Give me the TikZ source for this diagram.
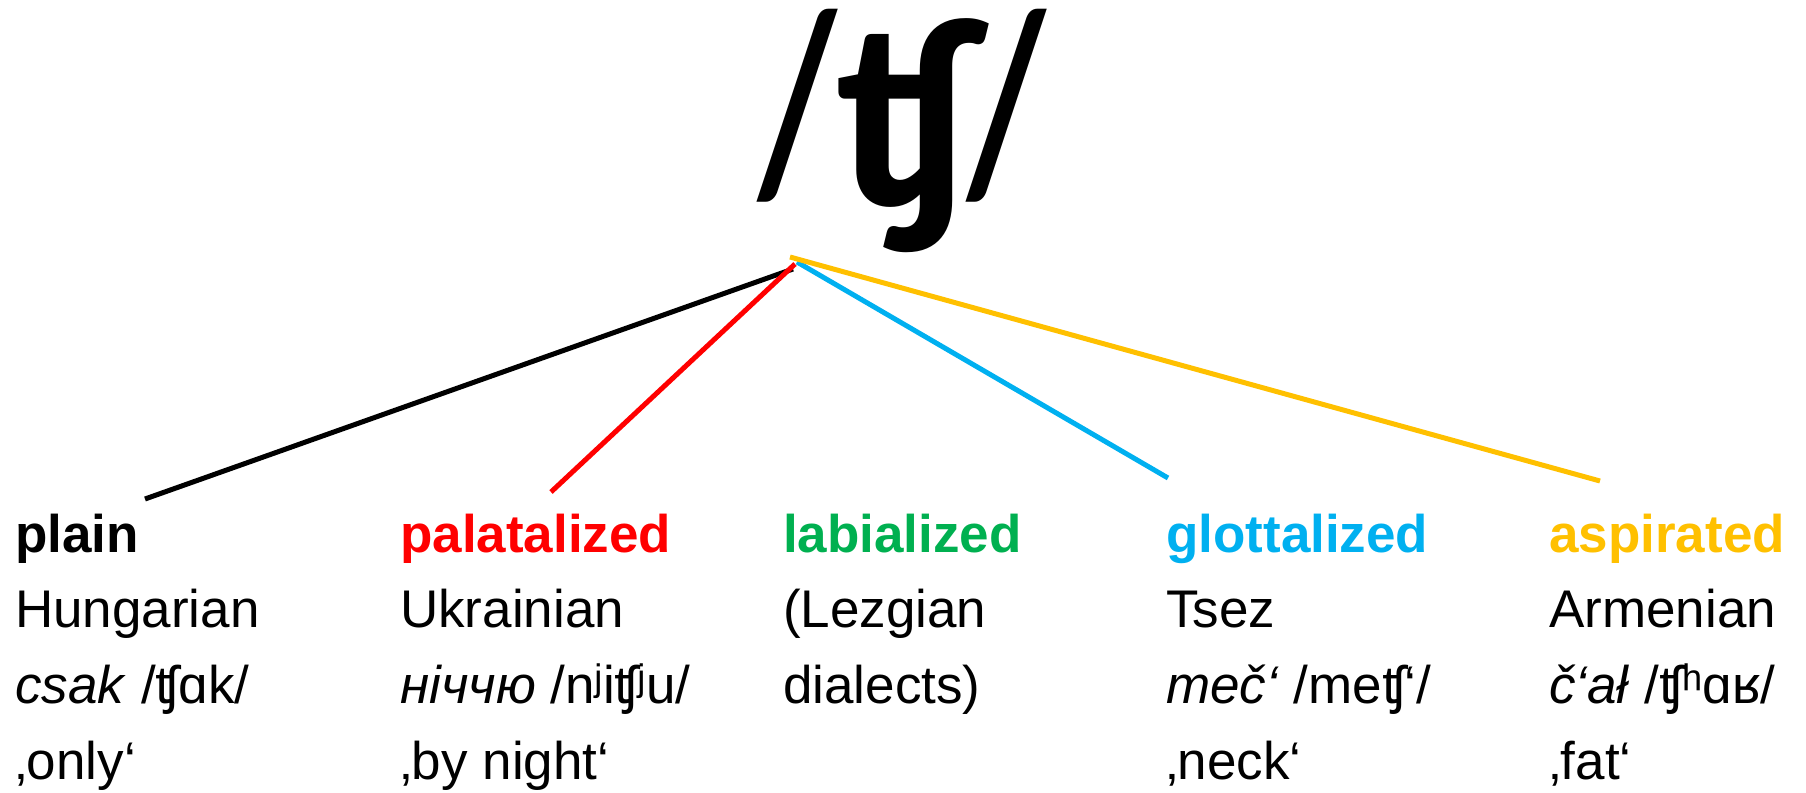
\documentclass[tikz,border=0pt]{standalone}
\usepackage{fontspec}
\setmainfont{Liberation Sans}
\newfontfamily\titlefont{Carlito}
\definecolor{cred}{HTML}{FF0000}
\definecolor{cgreen}{HTML}{00B050}
\definecolor{cblue}{HTML}{00B0F0}
\definecolor{cyellow}{HTML}{FFC000}
\begin{document}
\begin{tikzpicture}[x=1pt,y=-1pt,
  lbl/.style={anchor=base west, inner sep=0pt, font=\fontsize{53}{60}\selectfont},
  hd/.style={anchor=base west, inner sep=0pt, font=\fontsize{53}{60}\selectfont\bfseries},
  ttl/.style={anchor=north west, inner sep=0pt, font=\titlefont\bfseries},
  conn/.style={line width=5pt}]
\useasboundingbox (0,0) rectangle (1806,792);
% title
\node[ttl] (ti) at (758,9) {%
  \rlap{\raisebox{-\height}{\resizebox*{78pt}{193pt}{/}}}%
  \hspace*{78pt}%
  \rlap{\raisebox{\dimexpr-\height-9pt\relax}{\resizebox*{131pt}{234pt}{ʧ}}}%
  \hspace*{131pt}%
  \raisebox{-\height}{\resizebox*{78pt}{193pt}{/}}};
% hub points under the title
\coordinate (hk) at (793,269);
\coordinate (hr) at (795,264);
\coordinate (hb) at (797,262);
\coordinate (hy) at (790,257);
% free ends
\coordinate (ek) at (145,499);
\coordinate (er) at (551,492);
\coordinate (eb) at (1168,478);
\coordinate (ey) at (1600,481);
% columns
\node[hd] (h1) at (15,552) {plain};
\node[lbl] (a1) at (15,627) {Hungarian};
\node[lbl] (b1) at (15,703) {\textit{csak} /ʧɑk/};
\node[lbl] (c1) at (15,779) {‚only‘};
\node[hd, text=cred] (h2) at (400,552) {palatalized};
\node[lbl] (a2) at (400,627) {Ukrainian};
\node[lbl] (b2) at (400,703) {\textit{ніччю} /nʲiʧʲu/};
\node[lbl] (c2) at (400,779) {‚by night‘};
\node[hd, text=cgreen] (h3) at (783,552) {labialized};
\node[lbl] (a3) at (783,627) {(Lezgian};
\node[lbl] (b3) at (783,703) {dialects)};
\node[hd, text=cblue] (h4) at (1166,552) {glottalized};
\node[lbl] (a4) at (1166,627) {Tsez};
\node[lbl] (b4) at (1166,703) {\textit{meč‘} /meʧ‘/};
\node[lbl] (c4) at (1166,779) {‚neck‘};
\node[hd, text=cyellow] (h5) at (1549,552) {aspirated};
\node[lbl] (a5) at (1549,627) {Armenian};
\node[lbl] (b5) at (1549,703) {\textit{č‘ał} /ʧʰɑʁ/};
\node[lbl] (c5) at (1549,779) {‚fat‘};
% connectors
\draw[conn, black] (hk) -- (ek);
\draw[conn, cred] (hr) -- (er);
\draw[conn, cblue] (hb) -- (eb);
\draw[conn, cyellow] (hy) -- (ey);
\end{tikzpicture}
\end{document}
